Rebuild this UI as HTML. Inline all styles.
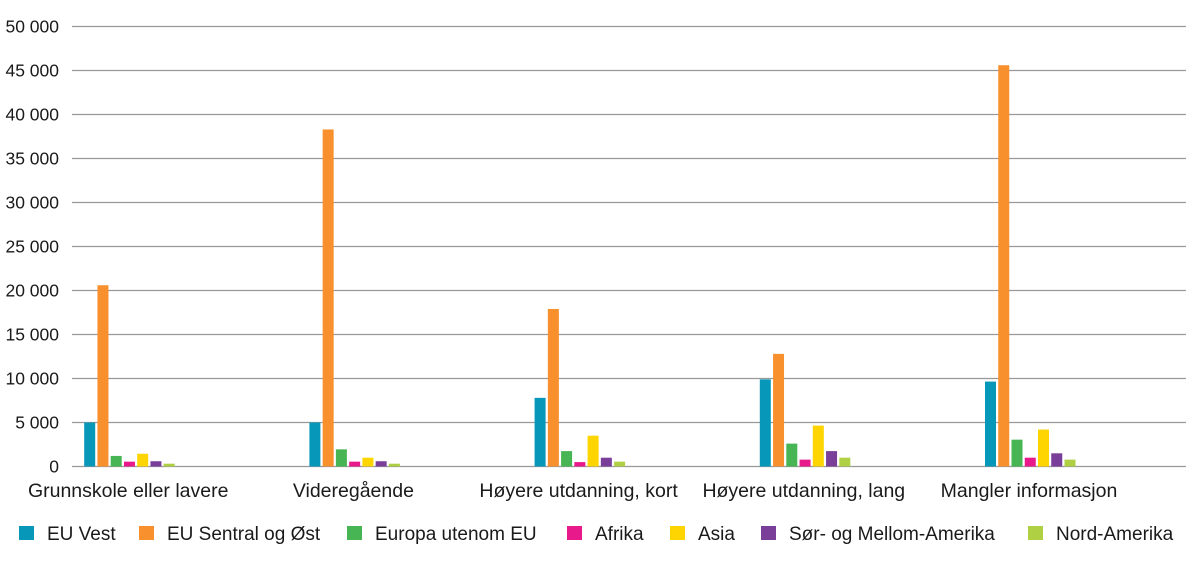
<!DOCTYPE html>
<html><head><meta charset="utf-8"><style>
body{margin:0;background:#fff;}
svg{display:block;font-family:"Liberation Sans",sans-serif;}
</style></head><body>
<svg id="chart" width="1200" height="561">
<g id="grid"></g>
<g id="yaxis"></g>
<g id="bars"></g>
<g id="xaxis"></g>
<g id="legend"></g>
</svg>
<script>
const categories=["Grunnskole eller lavere","Videregående","Høyere utdanning, kort","Høyere utdanning, lang","Mangler informasjon"];
const seriesNames=["EU Vest","EU Sentral og Øst","Europa utenom EU","Afrika","Asia","Sør- og Mellom-Amerika","Nord-Amerika"];
const euVest=[5000,5000,7800,9900,9650];
const euSentral=[20600,38300,17900,12800,45600];
const europaUtenom=[1200,1950,1750,2600,3050];
const afrika=[550,550,500,780,1000];
const asia=[1450,1000,3500,4650,4200];
const sorMellom=[600,600,1000,1750,1500];
const nordAmerika=[320,320,550,1000,780];
const yTicks=[0,5000,10000,15000,20000,25000,30000,35000,40000,45000,50000];
const yTickLabels=["0","5 000","10 000","15 000","20 000","25 000","30 000","35 000","40 000","45 000","50 000"];

const series=[euVest,euSentral,europaUtenom,afrika,asia,sorMellom,nordAmerika];
const colors=["#0797b9","#f7902d","#47b553","#e8198b","#fed500","#7a3f98","#afd043"];
const NS="http://www.w3.org/2000/svg";
const y0=466.5,yTop=26.5,yMax=50000;
function y(v){return y0-(v/yMax)*(y0-yTop);}
function groupX(i){return 84.2+i*225.2;}
function barX(i,s){return groupX(i)+s*13.25;}
function mk(tag,attrs,parent){const e=document.createElementNS(NS,tag);for(const k in attrs)e.setAttribute(k,attrs[k]);parent.appendChild(e);return e;}
const grid=document.getElementById('grid'),ya=document.getElementById('yaxis'),bars=document.getElementById('bars'),xa=document.getElementById('xaxis'),lg=document.getElementById('legend');
yTicks.forEach((t,i)=>{
  const l=mk('line',{x1:72,x2:1186,y1:y(t),y2:y(t),stroke:'#999',"stroke-width":1.3},grid);
  
  
  const tx=mk('text',{x:59,y:y(t)+6,"text-anchor":"end","font-size":17.5,fill:'#1a1a1a'},ya);
  tx.textContent=yTickLabels[i];
  
  
});
series.forEach((arr,s)=>{
  arr.forEach((v,i)=>{
    const r=mk('rect',{x:barX(i,s),y:y(v),width:11,height:y0-y(v),fill:colors[s]},bars);
    
    
  });
});
categories.forEach((c,i)=>{
  const t=mk('text',{x:groupX(i)+44,y:497,"text-anchor":"middle","font-size":19.5,fill:'#1a1a1a'},xa);
  t.textContent=c;
  
  
});
const legX=[19,139,347,567,670,761,1028];
seriesNames.forEach((n,s)=>{
  const g=mk('g',{},lg);
  
  
  mk('rect',{x:legX[s],y:526,width:15,height:14,fill:colors[s]},g);
  const t=mk('text',{x:legX[s]+28,y:540,"font-size":19,fill:'#1a1a1a'},g);
  t.textContent=n;
});
</script>
</body></html>
